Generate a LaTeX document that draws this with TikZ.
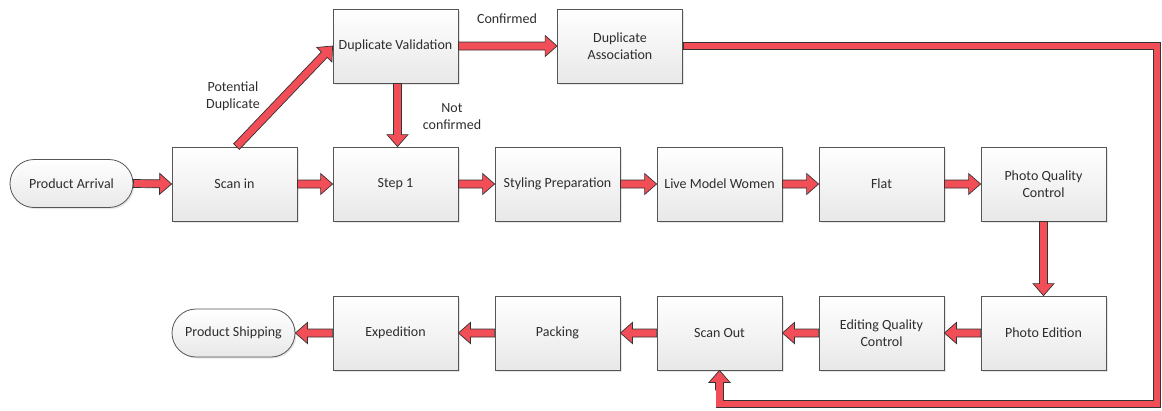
\documentclass[tikz,border=0pt]{standalone}
\usepackage{fontspec}
\setmainfont{Carlito}
\usetikzlibrary{calc,shadows}
\definecolor{arrred}{RGB}{242,78,88}
\definecolor{edge}{RGB}{85,85,85}
\definecolor{txt}{RGB}{45,45,45}
\tikzset{
  box/.style={draw=edge, line width=0.8pt, top color=white, bottom color=black!9,
    minimum width=125pt, minimum height=74pt, align=center, inner sep=1pt,
    font=\fontsize{14}{17}\selectfont, text=txt,
    drop shadow={shadow xshift=1.5pt, shadow yshift=-1.5pt, opacity=0.2}},
  pill/.style={box, minimum width=123pt, minimum height=48pt, rounded corners=24pt},
  blk/.style={fill=arrred, draw=black!80, line width=0.7pt, line join=miter},
  lbl/.style={font=\fontsize{14}{17}\selectfont, align=center, text=txt}
}
\newcommand\barrow[2]{%
  \filldraw[blk] let \p1=(#1), \p2=(#2), \n1={atan2(\y2-\y1,\x2-\x1)} in
    ($(\p1)+(\n1+90:4pt)$) -- ($(\p2)+(\n1+180:12pt)+(\n1+90:4pt)$)
    -- ($(\p2)+(\n1+180:12pt)+(\n1+90:10.5pt)$) -- (\p2)
    -- ($(\p2)+(\n1+180:12pt)+(\n1-90:10.5pt)$)
    -- ($(\p2)+(\n1+180:12pt)+(\n1-90:4pt)$)
    -- ($(\p1)+(\n1-90:4pt)$) -- cycle;}
\begin{document}
\begin{tikzpicture}[x=1pt,y=-1pt]
\useasboundingbox (0,0) rectangle (1162,410);
% top row
\node[pill] (pa) at (71.5,183.5) {Product Arrival};
\node[box] (si) at (234.5,184) {Scan in};
\node[box] (s1) at (395.5,184) {Step 1};
\node[box] (sp) at (557.5,184) {Styling Preparation};
\node[box] (lm) at (719.5,184) {Live Model Women};
\node[box] (fl) at (881.5,184) {Flat};
\node[box] (pq) at (1043.5,184) {Photo Quality\\Control};
% upper
\node[box] (dv) at (395.5,46) {Duplicate Validation};
\node[box] (da) at (620,46) {Duplicate\\Association};
% bottom row
\node[box] (pe) at (1043.5,333) {Photo Edition};
\node[box] (eq) at (881.5,333) {Editing Quality\\Control};
\node[box] (so) at (719.5,333) {Scan Out};
\node[box] (pk) at (557.5,333) {Packing};
\node[box] (ex) at (395.5,333) {Expedition};
\node[pill] (ps) at (233.5,333) {Product Shipping};
% labels
\node[lbl] (l1) at (233,96) {Potential\\Duplicate};
\node[lbl] (l2) at (507,19) {Confirmed};
\node[lbl] (l3) at (452,116.5) {Not\\confirmed};
% arrows
\barrow{pa.east}{si.west}
\barrow{si.east}{s1.west}
\barrow{s1.east}{sp.west}
\barrow{sp.east}{lm.west}
\barrow{lm.east}{fl.west}
\barrow{fl.east}{pq.west}
\barrow{pq.south}{pe.north}
\barrow{pe.west}{eq.east}
\barrow{eq.west}{so.east}
\barrow{so.west}{pk.east}
\barrow{pk.west}{ex.east}
\barrow{ex.west}{ps.east}
\barrow{$(si.north)+(2,0)$}{dv.west}
\barrow{dv.east}{da.west}
\barrow{$(dv.south)+(2,0)$}{$(s1.north)+(2,0)$}
% loop back
\coordinate (c1) at (1157,46);
\coordinate (c2) at (1157,404);
\coordinate (c3) at (719.5,404);
\coordinate (c4) at (719.5,390);
\draw[line width=8pt, draw=black!80, line join=miter] (da.east) -- (c1) -- (c2) -- (c3) -- (c4);
\barrow{c4}{so.south}
\draw[line width=6.4pt, draw=arrred, line join=miter] ($(da.east)+(0.6,0)$) -- (c1) -- (c2) -- (c3) -- (719.5,383);
\end{tikzpicture}
\end{document}
